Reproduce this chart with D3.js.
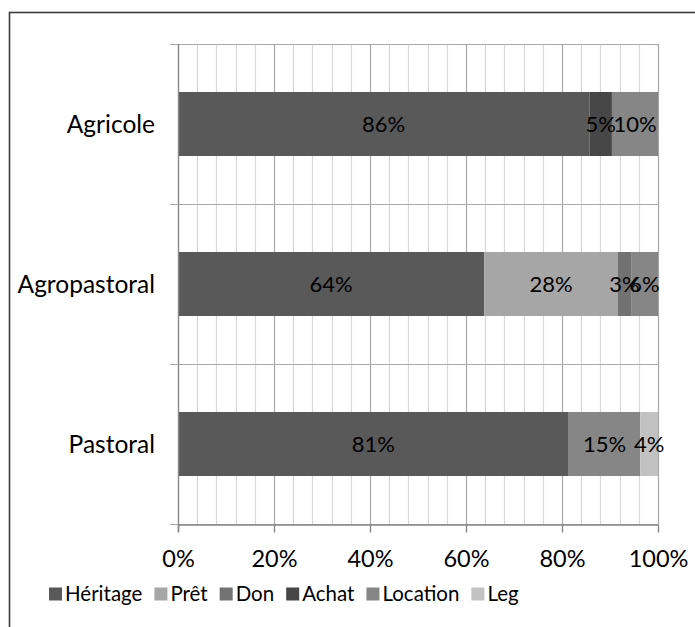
<!DOCTYPE html>
<html>
<head>
<meta charset="utf-8">
<script src="https://cdn.jsdelivr.net/npm/d3@7"></script>
<style>
  html, body { margin: 0; padding: 0; background: #fff; }
  svg { display: block; }
  text { font-family: Lato, "Open Sans", sans-serif; fill: #000; }
</style>
</head>
<body>
<svg id="chart" width="695" height="627"></svg>
<script>
// Mode d'accès au foncier par système de production (parts en %)
const categories = ["Agricole", "Agropastoral", "Pastoral"];
const seriesNames = ["Héritage", "Prêt", "Don", "Achat", "Location", "Leg"];
const seriesColors = ["#595959", "#a6a6a6", "#727272", "#474747", "#868686", "#c2c2c2"];

// one array per series, in category order
const heritageVals = [0.857, 0.638, 0.814];
const pretVals     = [0,     0.278, 0    ];
const donVals      = [0,     0.028, 0    ];
const achatVals    = [0.047, 0,     0    ];
const locationVals = [0.096, 0.056, 0.149];
const legVals      = [0,     0,     0.037];

const axisTicks = [0, 0.2, 0.4, 0.6, 0.8, 1];
const gridTicks = d3.range(0, 26).map(i => i / 25);

const seriesValues = [heritageVals, pretVals, donVals, achatVals, locationVals, legVals];
const rows = categories.map((c, i) => {
  const r = { cat: c };
  seriesNames.forEach((s, k) => { r[s] = seriesValues[k][i]; });
  return r;
});

const svg = d3.select("#chart");
const W = 695, H = 627;

// outer frame
svg.append("rect")
  .attr("x", 9.5).attr("y", 12.5)
  .attr("width", W + 20).attr("height", H + 20)
  .attr("fill", "#fff").attr("stroke", "#3c3c3c").attr("stroke-width", 1.6);

const x = d3.scaleLinear().domain([0, 1]).range([178, 658]);
const y = d3.scaleBand().domain(categories).range([44, 524])
  .paddingInner(0.6).paddingOuter(0.3);
const color = d3.scaleOrdinal().domain(seriesNames).range(seriesColors);
const pct = d3.format(".0%");

// vertical gridlines (minor every 4 %, major every 20 %)
svg.append("g").selectAll("line")
  .data(gridTicks.filter(t => !axisTicks.some(a => Math.abs(a - t) < 1e-9)))
  .join("line")
  .attr("x1", d => Math.round(x(d)) + 0.5).attr("x2", d => Math.round(x(d)) + 0.5)
  .attr("y1", 44).attr("y2", 524)
  .attr("stroke", "#d9d9d9").attr("stroke-width", 1.2);
svg.append("g").selectAll("line")
  .data(axisTicks.slice(1))
  .join("line")
  .attr("x1", d => Math.round(x(d)) + 0.5).attr("x2", d => Math.round(x(d)) + 0.5)
  .attr("y1", 44).attr("y2", 524)
  .attr("stroke", "#a8a8a8").attr("stroke-width", 1.2);

// horizontal lines at category boundaries
const bounds = [44].concat(categories.map(c => y(c) + y.bandwidth() + y.step() * y.paddingInner() / 2));
bounds[bounds.length - 1] = 524;
svg.append("g").selectAll("line")
  .data(bounds)
  .join("line")
  .attr("x1", 170).attr("x2", 658)
  .attr("y1", d => Math.round(d) + 0.5).attr("y2", d => Math.round(d) + 0.5)
  .attr("stroke", "#a8a8a8").attr("stroke-width", 1.2);

// stacked bars
const stack = d3.stack().keys(seriesNames);
const layers = stack(rows);

const gBars = svg.append("g");
layers.forEach(layer => {
  const key = layer.key;
  gBars.append("g").selectAll("rect")
    .data(layer.filter(d => d[1] - d[0] > 0))
    .join("rect")
    .attr("x", d => x(d[0]))
    .attr("width", d => x(d[1]) - x(d[0]))
    .attr("y", d => y(d.data.cat))
    .attr("height", y.bandwidth())
    .attr("fill", color(key));
});

// value labels
layers.forEach(layer => {
  gBars.append("g").selectAll("text")
    .data(layer.filter(d => d[1] - d[0] > 0))
    .join("text")
    .attr("x", d => (x(d[0]) + x(d[1])) / 2)
    .attr("y", d => y(d.data.cat) + y.bandwidth() / 2 + 8)
    .attr("text-anchor", "middle")
    .attr("font-size", 22)
    .text(d => pct(d[1] - d[0]));
});

// axes
const xAxis = d3.axisBottom(x).tickValues(axisTicks).tickFormat(pct)
  .tickSize(8).tickSizeOuter(0);
const gx = svg.append("g").attr("transform", "translate(0,524.5)").call(xAxis);
gx.select(".domain").attr("stroke", "#888").attr("stroke-width", 1.4);
gx.selectAll(".tick line").attr("stroke", "#888").attr("stroke-width", 1.4);
gx.selectAll(".tick text").attr("font-size", 23.5).attr("dy", 0).attr("y", 42)
  .attr("font-family", "Lato, 'Open Sans', sans-serif").attr("fill", "#000");

svg.append("line")
  .attr("x1", 178.5).attr("x2", 178.5).attr("y1", 44).attr("y2", 532)
  .attr("stroke", "#888").attr("stroke-width", 1.4);

svg.append("g").selectAll("text")
  .data(categories)
  .join("text")
  .attr("x", 155)
  .attr("y", d => y(d) + y.bandwidth() / 2 + 8.5)
  .attr("text-anchor", "end")
  .attr("font-size", 24.5)
  .text(d => d);

// legend
const legend = svg.append("g").attr("transform", "translate(49,601)");
let cx = 0;
seriesNames.forEach(s => {
  const g = legend.append("g").attr("transform", `translate(${cx},0)`);
  g.append("rect").attr("x", 0).attr("y", -13.5).attr("width", 13).attr("height", 13)
    .attr("fill", color(s));
  const t = g.append("text").attr("x", 16).attr("y", 0)
    .attr("font-size", 20.5).text(s);
  cx += 16 + t.node().getComputedTextLength() + 12;
});
</script>
</body>
</html>
